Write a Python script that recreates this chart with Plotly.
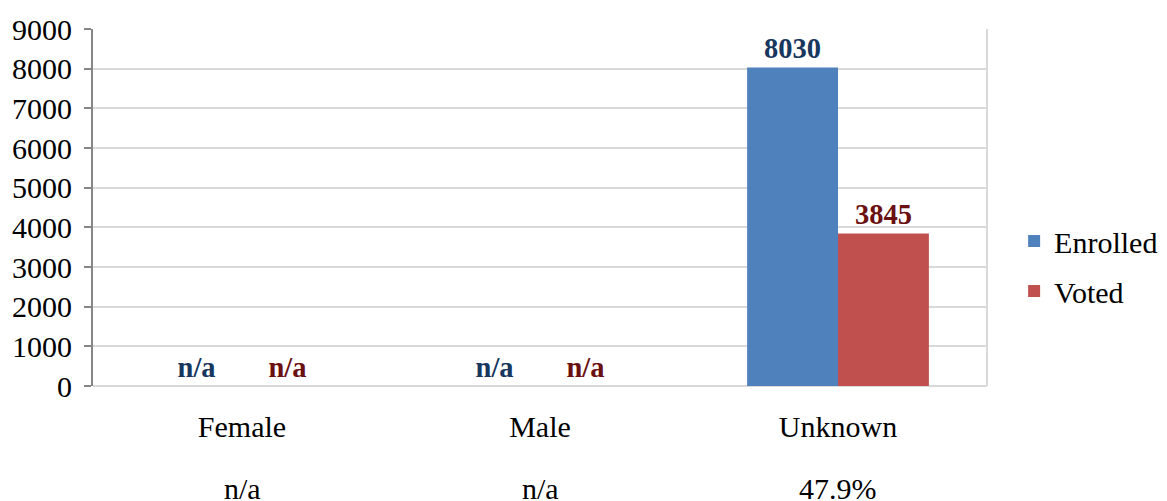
import plotly.graph_objects as go

categories = ["Female", "Male", "Unknown"]
enrolled = [None, None, 8030]
voted = [None, None, 3845]
turnout = ["n/a", "n/a", "47.9%"]
y_ticks = list(range(0, 10000, 1000))

FONT = "Liberation Serif"


def vals(a):
    return [v if v is not None else 0 for v in a]


def labels(a):
    return [str(v) if v is not None else "n/a" for v in a]


fig = go.Figure()
fig.add_trace(go.Bar(
    name="Enrolled", x=categories, y=vals(enrolled),
    text=labels(enrolled), textposition="outside",
    textfont=dict(family=FONT, size=28.5, color="#17375E", weight="bold"),
    marker=dict(color="#4F81BD", line=dict(width=0)),
    cliponaxis=False, legendgroup="a",
))
fig.add_trace(go.Bar(
    name="Voted", x=categories, y=vals(voted),
    text=labels(voted), textposition="outside",
    textfont=dict(family=FONT, size=28.5, color="#6B1010", weight="bold"),
    marker=dict(color="#C0504D", line=dict(width=0)),
    cliponaxis=False, legendgroup="b",
))

for c, t in zip(categories, turnout):
    fig.add_annotation(x=c, y=0, xref="x", yref="paper", text=t, showarrow=False,
                       yanchor="middle", yshift=-102,
                       font=dict(family=FONT, size=30, color="#000000"))

fig.add_shape(type="line", xref="paper", yref="paper", x0=1, x1=1, y0=0, y1=1,
              line=dict(color="#D9D9D9", width=2))

fig.update_layout(
    width=1167, height=501,
    margin=dict(l=91, r=180, t=26, b=115),
    paper_bgcolor="white", plot_bgcolor="white",
    barmode="group", bargap=0.39, bargroupgap=0,
    font=dict(family=FONT, size=30, color="#000000"),
    legend=dict(xref="container", yref="container", x=0.869, y=0.469,
                xanchor="left", yanchor="middle",
                font=dict(family=FONT, size=30, color="#000000"),
                tracegroupgap=8, bgcolor="rgba(0,0,0,0)"),
    xaxis=dict(showgrid=False, showline=False, ticks="",
               tickfont=dict(family=FONT, size=30, color="#000000"),
               ticklabelstandoff=20),
    yaxis=dict(range=[0, 9000], tickvals=y_ticks, showgrid=True, gridcolor="#D9D9D9",
               gridwidth=2, showline=True, linecolor="#868686", linewidth=2,
               ticks="outside", ticklen=7, tickcolor="#868686", tickwidth=2,
               zeroline=True, zerolinecolor="#D9D9D9", zerolinewidth=2,
               tickfont=dict(family=FONT, size=30, color="#000000"),
               ticklabelstandoff=6),
)

fig.write_html("out.html", config={"displayModeBar": False},
               post_script="document.body.style.margin='0';document.body.style.overflow='hidden';")
